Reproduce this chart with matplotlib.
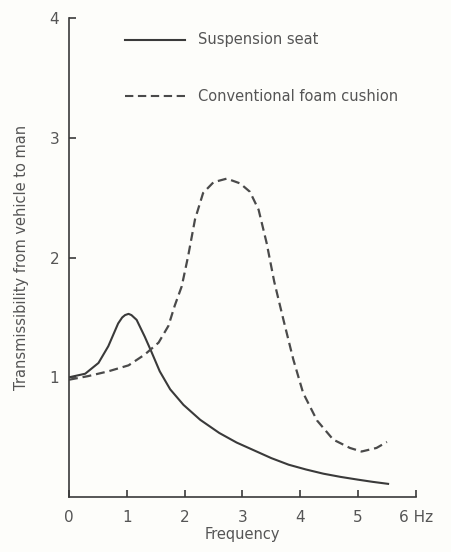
import matplotlib
matplotlib.use("Agg")
import matplotlib.pyplot as plt

# Values
freq_seat = [0.0, 0.28, 0.51, 0.68, 0.85, 0.92, 0.97, 1.03, 1.08, 1.17, 1.31, 1.42, 1.57, 1.75,
             1.98, 2.27, 2.6, 2.9, 3.2, 3.5, 3.8, 4.1, 4.4, 4.7, 5.0, 5.25, 5.52]
trans_seat = [1.0, 1.03, 1.12, 1.26, 1.45, 1.50, 1.52, 1.53, 1.52, 1.48, 1.34, 1.22, 1.05, 0.90,
              0.77, 0.645, 0.535, 0.455, 0.39, 0.325, 0.27, 0.23, 0.195, 0.168, 0.145, 0.127, 0.11]

freq_foam = [0.0, 0.33, 0.68, 1.03, 1.31, 1.55, 1.72, 1.83, 1.95, 2.06, 2.18, 2.32, 2.5, 2.73,
             2.96, 3.13, 3.28, 3.42, 3.55, 3.71, 3.88, 4.05, 4.29, 4.57, 4.86, 5.06, 5.32, 5.5]
trans_foam = [0.98, 1.01, 1.05, 1.10, 1.19, 1.29, 1.43, 1.60, 1.76, 2.01, 2.32, 2.54, 2.63, 2.66,
              2.62, 2.55, 2.40, 2.12, 1.80, 1.48, 1.15, 0.87, 0.64, 0.48, 0.41, 0.38, 0.41, 0.46]

xticks = [0, 1, 2, 3, 4, 5, 6]
xtick_labels = ["0", "1", "2", "3", "4", "5", "6 Hz"]
yticks = [1, 2, 3, 4]

ink = "#3a3a3a"
label_col = "#555555"
dash = (0, (4, 2.2))

fig = plt.figure(figsize=(4.51, 5.52), dpi=100)
fig.patch.set_facecolor("#fdfdfa")
ax = fig.add_axes([0.153, 0.0996, 0.769, 0.8674])
ax.set_facecolor("#fdfdfa")

ax.plot(freq_seat, trans_seat, color=ink, lw=1.5, solid_joinstyle="round")
ax.plot(freq_foam, trans_foam, color="#4a4a4a", lw=1.6, ls=dash)

# legend drawn by hand, like the original figure
ax.plot([0.97, 2.0], [3.82, 3.82], color=ink, lw=1.5)
ax.text(2.23, 3.82, "Suspension seat", va="center", ha="left", fontsize=10.5, color=label_col)
ax.plot([0.97, 2.0], [3.35, 3.35], color="#4a4a4a", lw=1.5, ls=dash)
ax.text(2.23, 3.35, "Conventional foam cushion", va="center", ha="left", fontsize=10.5, color=label_col)

ax.set_xlim(0, 6)
ax.set_ylim(0, 4)
for s in ["top", "right"]:
    ax.spines[s].set_visible(False)
for s in ["left", "bottom"]:
    ax.spines[s].set_color(ink)
    ax.spines[s].set_linewidth(1.2)

ax.set_xticks(xticks)
ax.set_xticklabels(xtick_labels)
ax.set_yticks(yticks)
ax.tick_params(direction="in", length=5, width=1.2, color=ink, labelcolor=label_col, labelsize=11)
ax.tick_params(axis="x", pad=9)
ax.tick_params(axis="y", pad=7)

ax.set_xlabel("Frequency", fontsize=10.5, color=label_col, labelpad=2)
ax.set_ylabel("Transmissibility from vehicle to man", fontsize=10.5, color=label_col, labelpad=15)

fig.savefig("out.png", dpi=100, facecolor=fig.get_facecolor())
